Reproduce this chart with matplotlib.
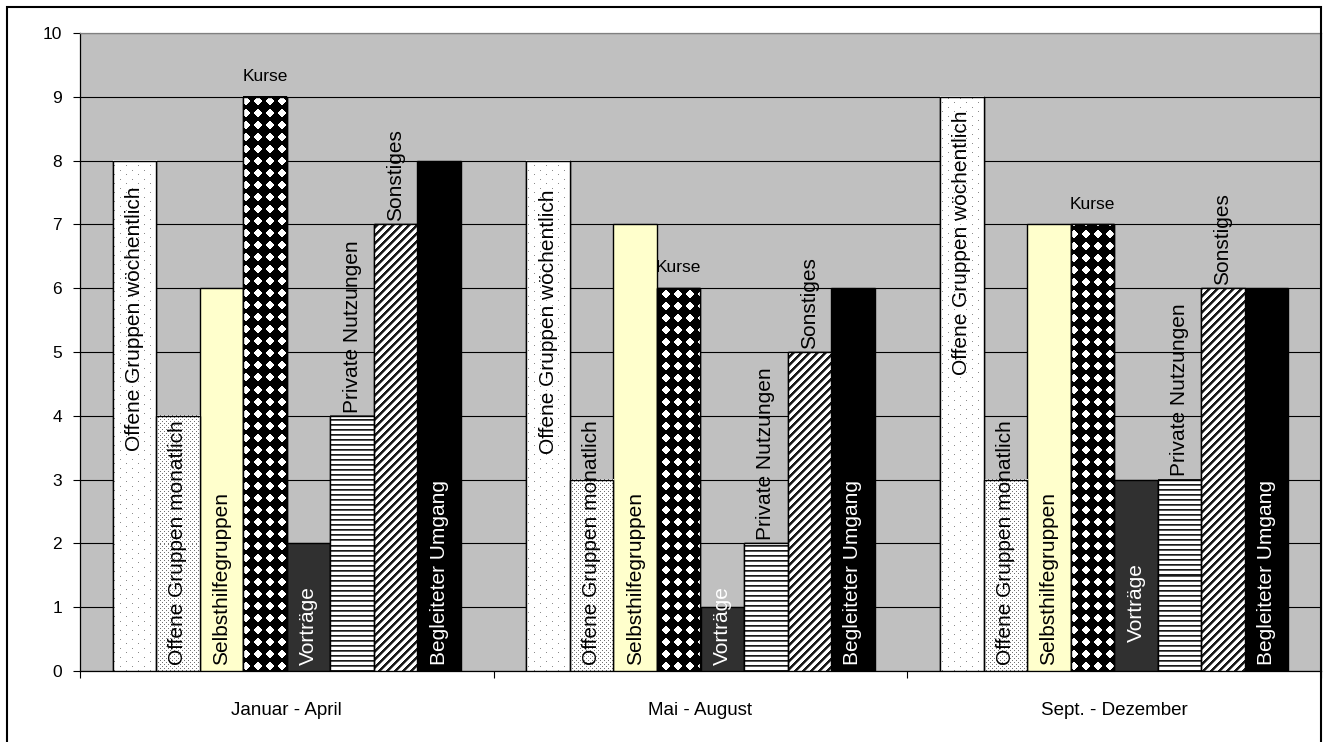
import numpy as np
import matplotlib
matplotlib.use("Agg")
import matplotlib.pyplot as plt
from matplotlib.patches import Rectangle

plt.rcParams["font.family"] = ["Liberation Sans", "DejaVu Sans"]

# ---- data ----
categories = ["Januar - April", "Mai - August", "Sept. - Dezember"]
series_names = [
    "Offene Gruppen wöchentlich",
    "Offene Gruppen monatlich",
    "Selbsthilfegruppen",
    "Kurse",
    "Vorträge",
    "Private Nutzungen",
    "Sonstiges",
    "Begleiteter Umgang",
]
offene_woechentlich = [8, 8, 9]
offene_monatlich = [4, 3, 3]
selbsthilfe = [6, 7, 7]
kurse = [9, 6, 7]
vortraege = [2, 1, 3]
private_nutzungen = [4, 2, 3]
sonstiges = [7, 5, 6]
begleiteter_umgang = [8, 6, 6]
series_values = [offene_woechentlich, offene_monatlich, selbsthilfe, kurse,
                 vortraege, private_nutzungen, sonstiges, begleiteter_umgang]
y_ticks = list(range(0, 11))

# ---- styling / layout ----
W, H, DPI = 1323, 742, 100
fills = ["dots_sparse", "dots_dense", "#FFFFCC", "diamonds",
         "#303030", "hstripes", "diagonal", "#000000"]
text_colors = ["black", "black", "black", "black", "white", "black", "black", "white"]
# label placement: "base" = just above the axis inside the bar,
# "top" = just above the bar end, a number = fixed bottom position
label_modes = [
    [3.45, 3.4, 4.64],
    ["base", "base", "base"],
    ["base", "base", "base"],
    ["horiz", "horiz", "horiz"],
    ["base", "base", 0.45],
    ["top", "top", "top"],
    ["top", "top", "top"],
    ["base", "base", "base"],
]
n_slots = 8           # bar slots per category
gap_ratio = 1.5       # gap between categories relative to a bar width

fig = plt.figure(figsize=(W / DPI, H / DPI), dpi=DPI)
ax = fig.add_axes([80 / W, 1 - 671 / H, (1321 - 80) / W, (671 - 33) / H])
ax.set_facecolor("#C0C0C0")
ax.set_xlim(0, len(categories))
ax.set_ylim(0, 10)

bar_w = 1.0 / (n_slots + gap_ratio)
start = gap_ratio / 2 * bar_w


def texture(kind, rows, cols, r0, c0):
    """Pixel pattern for a bar, anchored at absolute pixel (r0, c0)."""
    rr, cc = np.meshgrid(np.arange(rows) + r0, np.arange(cols) + c0, indexing="ij")
    img = np.ones((rows, cols, 3))
    if kind == "dots_sparse":
        m = ((rr % 9 == 0) & (cc % 12 == 0)) | ((rr % 9 == 4) & (cc % 12 == 6))
        img[m] = 0.55
    elif kind == "dots_dense":
        m = ((rr % 4 == 0) & (cc % 4 == 0)) | ((rr % 4 == 2) & (cc % 4 == 2))
        img[m] = 0.45
    elif kind == "diamonds":
        p = 12
        a = (cc % p) - p / 2 + 0.5
        b = (rr % p) - p / 2 + 0.5
        d = np.abs(a) + np.abs(b)
        img[:] = 0.0
        img[d < 4.6] = 1.0
    elif kind == "hstripes":
        ph = rr % 5
        img[ph == 0] = 0.1
        img[ph == 1] = 0.35
    elif kind == "diagonal":
        ph = (rr + cc) % 8
        img[(ph >= 0) & (ph < 3)] = 0.1
        img[ph == 3] = 0.5
    return img


# bars
for i, (name, vals) in enumerate(zip(series_names, series_values)):
    xs = np.arange(len(categories)) + start + (i + 0.5) * bar_w
    fill = fills[i]
    solid = fill.startswith("#")
    bc = ax.bar(xs, vals, width=bar_w, color=fill if solid else "white",
                edgecolor="black", linewidth=1.0, zorder=3, label=name)
    if not solid:
        for patch in bc:
            x0, y0 = patch.get_x(), patch.get_y()
            x1, y1 = x0 + patch.get_width(), y0 + patch.get_height()
            (px0, py0) = ax.transData.transform((x0, y0))
            (px1, py1) = ax.transData.transform((x1, y1))
            cols = max(1, int(round(px1 - px0)))
            rows = max(1, int(round(py1 - py0)))
            img = texture(fill, rows, cols, int(round(H - py1)), int(round(px0)))
            ax.imshow(img, extent=(x0, x1, y0, y1), origin="upper",
                      interpolation="nearest", aspect="auto", zorder=3.5)
        # outline on top of the pattern
        ax.bar(xs, vals, width=bar_w, fill=False, edgecolor="black",
               linewidth=1.0, zorder=4)

# series name labels
for i, (name, vals) in enumerate(zip(series_names, series_values)):
    xs = np.arange(len(categories)) + start + (i + 0.5) * bar_w
    for j, (x, v) in enumerate(zip(xs, vals)):
        mode = label_modes[i][j]
        if mode == "horiz":
            ax.text(x, v + 0.2, name, ha="center", va="bottom", fontsize=12.5,
                    color=text_colors[i], zorder=6)
            continue
        if mode == "base":
            yb = 0.1
        elif mode == "top":
            yb = v + 0.05
        else:
            yb = mode
        ax.text(x, yb, name, rotation=90, ha="center", va="bottom",
                fontsize=15, color=text_colors[i], zorder=6)

ax.set_xlim(0, len(categories))
ax.set_ylim(0, 10)

# grid and axes
ax.set_yticks(y_ticks)
ax.yaxis.grid(True, color="black", linewidth=0.8, zorder=1)
ax.set_axisbelow(True)
ax.tick_params(axis="y", direction="out", length=5, width=0.8, pad=8, labelsize=12.5)
ax.set_xticks(np.arange(len(categories) + 1))
ax.set_xticklabels([])
ax.set_xticks(np.arange(len(categories)) + 0.5, minor=True)
ax.set_xticklabels(categories, minor=True)
ax.tick_params(axis="x", which="major", direction="out", length=5, width=0.8)
ax.tick_params(axis="x", which="minor", length=0, pad=22, labelsize=13.5)
for side in ("left", "bottom"):
    ax.spines[side].set_color("black")
    ax.spines[side].set_linewidth(0.9)
for side in ("top", "right"):
    ax.spines[side].set_color("#808080")
    ax.spines[side].set_linewidth(0.9)

# outer frame of the chart area
fig.patches.append(Rectangle((6.5 / W, -0.05), (1321 - 6.5) / W, 1.05 - 6.5 / H,
                             transform=fig.transFigure, fill=False,
                             edgecolor="black", linewidth=1.5, zorder=10))

fig.savefig("out.png", dpi=DPI)
